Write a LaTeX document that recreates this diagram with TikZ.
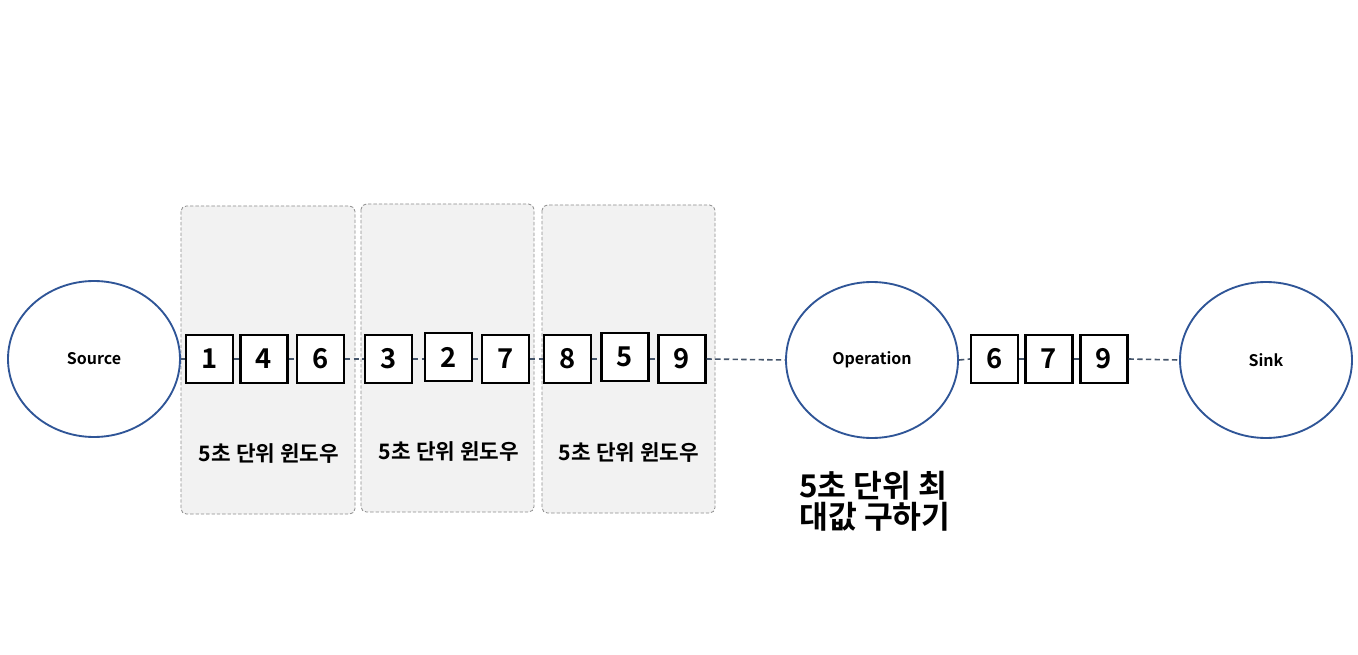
\documentclass[tikz,border=0pt]{standalone}
\usepackage{fontspec}
\setmainfont{Noto Sans CJK KR}[BoldFont={* Bold}]
\usetikzlibrary{shapes.geometric}
\definecolor{ellblue}{HTML}{2F5597}
\definecolor{lnblue}{HTML}{44546A}
\definecolor{winfill}{HTML}{F2F2F2}
\definecolor{winedge}{HTML}{8C8C8C}
\begin{document}
\begin{tikzpicture}[x=0.75pt,y=-0.75pt,
  ell/.style={draw=ellblue,line width=1.4pt,ellipse,minimum width=172*0.75pt,minimum height=156*0.75pt,inner sep=0pt,fill=white,font=\bfseries\fontsize{12}{14}\selectfont},
  sq/.style={draw=black,line width=1.6pt,fill=white,minimum width=47*0.75pt,minimum height=48*0.75pt,inner sep=0pt,font=\bfseries\fontsize{20.5}{24}\selectfont},
  win/.style={draw=winedge,dashed,dash pattern=on 2.5pt off 1.5pt,line width=0.6pt,fill=winfill,rounded corners=4pt},
  wlab/.style={font=\bfseries\fontsize{16}{19}\selectfont,inner sep=0pt},
  conn/.style={draw=lnblue,line width=1.2pt,dash pattern=on 4pt off 2.5pt}]
\useasboundingbox (0,0) rectangle (1358,655);
% windows
\draw[win] (181,206) rectangle (355,514);
\draw[win] (361,204) rectangle (534,512);
\draw[win] (542,205) rectangle (715,513);
\node[wlab] (w1) at (269,454) {5초 단위 윈도우};
\node[wlab] (w2) at (449,452) {5초 단위 윈도우};
\node[wlab] (w3) at (629,453) {5초 단위 윈도우};
% ellipses
\node[ell] (src) at (94,359) {Source};
\node[ell] (op) at (872,360) {Operation};
\node[ell] (sink) at (1266,360) {Sink};
% squares
\node[sq] (a1) at (209.5,359) {1};
\node[sq] (a2) at (264,359) {4};
\node[sq] (a3) at (320.5,359) {6};
\node[sq] (b1) at (388.5,359) {3};
\node[sq] (b2) at (448.5,357) {2};
\node[sq] (b3) at (505.5,359) {7};
\node[sq] (c1) at (567.5,359) {8};
\node[sq] (c2) at (625,357) {5};
\node[sq] (c3) at (682,359) {9};
\node[sq] (d1) at (994.5,359) {6};
\node[sq] (d2) at (1049,359) {7};
\node[sq] (d3) at (1104,359) {9};
% connectors
\draw[conn] (src.east) -- (a1.west);
\draw[conn] (a1.east) -- (a2.west);
\draw[conn] (a2.east) -- (a3.west);
\draw[conn] (a3.east) -- (b1.west);
\draw[conn] (b1.east) -- (b2.west |- b1.east);
\draw[conn] (b2.east |- b1.east) -- (b3.west);
\draw[conn] (b3.east) -- (c1.west);
\draw[conn] (c1.east) -- (c2.west |- c1.east);
\draw[conn] (c2.east |- c1.east) -- (c3.west);
\draw[conn] (c3.east) -- (op.west);
\draw[conn] (op.east) -- (d1.west);
\draw[conn] (d1.east) -- (d2.west);
\draw[conn] (d2.east) -- (d3.west);
\draw[conn] (d3.east) -- (sink.west);
% operation label
\node[anchor=north west,align=left,inner sep=0pt,font=\bfseries\fontsize{23.5}{23.5}\selectfont] (oplab) at (799,471) {5초 단위 최\\대값 구하기};
\end{tikzpicture}
\end{document}
